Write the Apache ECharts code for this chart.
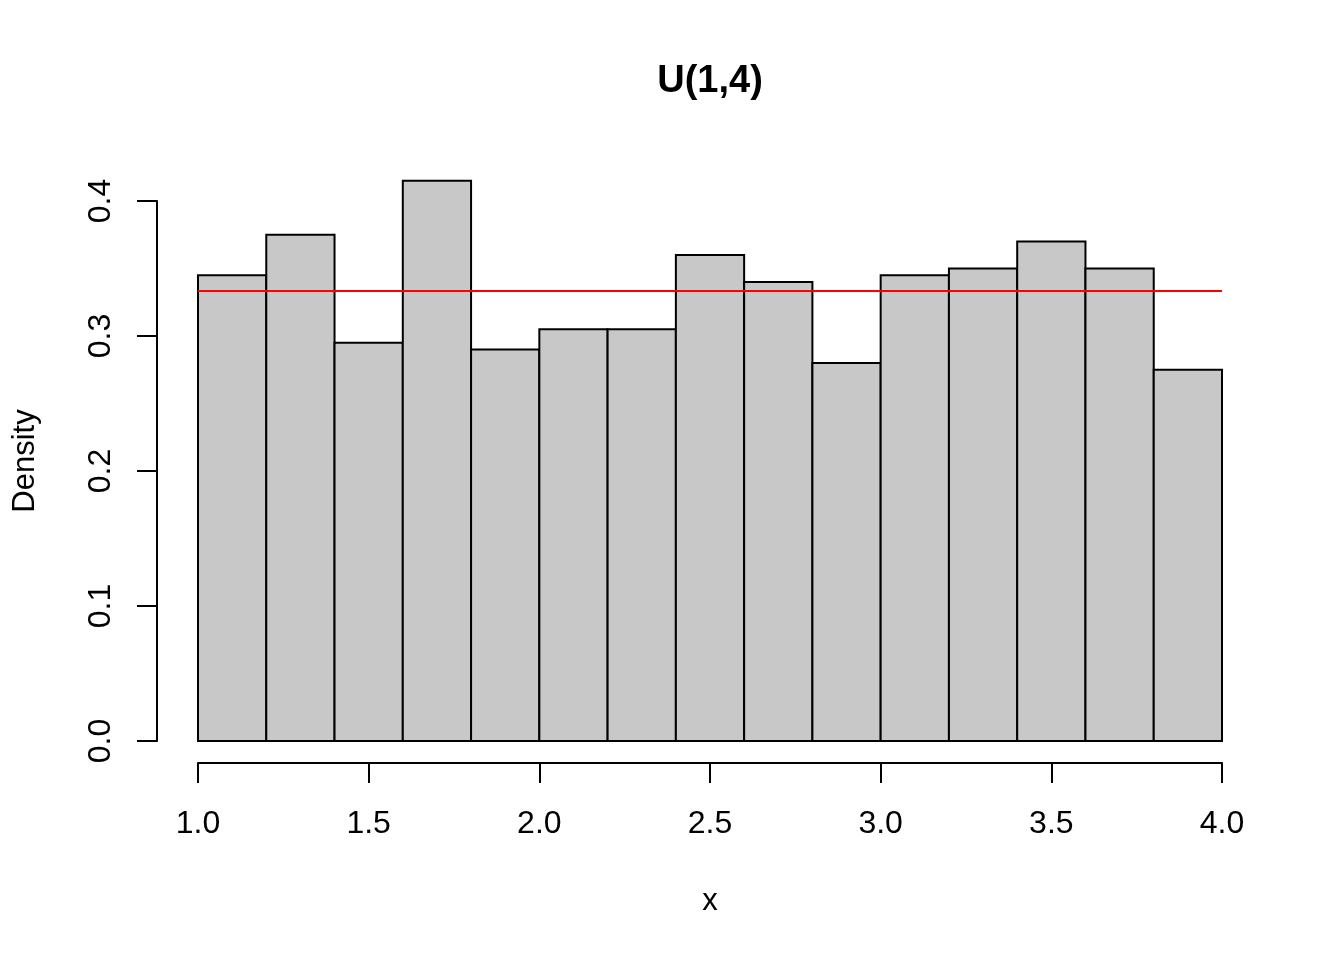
<!DOCTYPE html>
<html>
<head>
<meta charset="utf-8">
<script src="https://cdn.jsdelivr.net/npm/echarts@6/dist/echarts.min.js"></script>
<style>html,body{margin:0;padding:0;background:#fff;}#c{width:1344px;height:960px;}</style>
</head>
<body>
<div id="c"></div>
<script>
const breaks = [1.0,1.2,1.4,1.6,1.8,2.0,2.2,2.4,2.6,2.8,3.0,3.2,3.4,3.6,3.8,4.0];
const density = [0.345,0.375,0.295,0.415,0.290,0.305,0.305,0.360,0.340,0.280,0.345,0.350,0.370,0.350,0.275];
const xTicks = [1.0,1.5,2.0,2.5,3.0,3.5,4.0];
const yTicks = [0.0,0.1,0.2,0.3,0.4];
const uniformLine = [[1,1/3],[4,1/3]];

const FONT = 'Liberation Sans';
const barData = density.map((d,i)=>[breaks[i], breaks[i+1], d]);

const chart = echarts.init(document.getElementById('c'), null, {renderer:'canvas'});
chart.setOption({
  animation:false,
  backgroundColor:'#ffffff',
  title:{
    text:'U(1,4)', left:705, top:58, textAlign:'center',
    textStyle:{fontFamily:FONT, fontSize:38, fontWeight:'bold', color:'#000'}
  },
  graphic:[
    {type:'text', x:710, y:901, style:{text:'x', fontFamily:FONT, fontSize:31, fill:'#000', align:'center', verticalAlign:'middle'}},
    {type:'text', x:25, y:461, rotation:Math.PI/2, style:{text:'Density', fontFamily:FONT, fontSize:31, fill:'#000', align:'center', verticalAlign:'middle'}}
  ],
  grid:[
    {left:198, right:122, top:201, bottom:219},
    {left:198, right:122, top:201, bottom:197}
  ],
  xAxis:[
    {
      gridIndex:0, type:'value', min:1, max:4, interval:0.5,
      axisLine:{show:false}, axisTick:{show:false}, axisLabel:{show:false}, splitLine:{show:false}
    },
    {
      gridIndex:1, type:'value', min:1, max:4, interval:0.5,
      axisLine:{show:true, lineStyle:{color:'#000', width:2}},
      axisTick:{show:true, length:20, lineStyle:{color:'#000', width:2}},
      axisLabel:{margin:45, fontFamily:FONT, fontSize:32, color:'#000',
        formatter:v=>v.toFixed(1), customValues:xTicks},
      splitLine:{show:false}
    }
  ],
  yAxis:[
    {
      gridIndex:0, type:'value', min:0, max:0.4, interval:0.1, offset:41,
      axisLine:{show:true, lineStyle:{color:'#000', width:2}},
      axisTick:{show:true, length:20, lineStyle:{color:'#000', width:2}},
      axisLabel:{margin:40, rotate:90, fontFamily:FONT, fontSize:32, color:'#000',
        formatter:v=>v.toFixed(1), customValues:yTicks},
      splitLine:{show:false}
    },
    {
      gridIndex:1, type:'value', min:0, max:1, show:false
    }
  ],
  series:[
    {
      type:'custom', clip:false, xAxisIndex:0, yAxisIndex:0,
      data:barData,
      encode:{x:[0,1], y:2},
      renderItem:function(params, api){
        const p0 = api.coord([api.value(0), api.value(2)]);
        const p1 = api.coord([api.value(1), 0]);
        return {
          type:'rect',
          shape:{x:p0[0], y:p0[1], width:p1[0]-p0[0], height:p1[1]-p0[1]},
          style:{fill:'#c8c8c8', stroke:'#000', lineWidth:2}
        };
      },
      z:2
    },
    {
      type:'line', data:uniformLine, symbol:'none', clip:false, xAxisIndex:0, yAxisIndex:0,
      lineStyle:{color:'#ff0000', width:2}, z:3
    }
  ]
});
</script>
</body>
</html>
